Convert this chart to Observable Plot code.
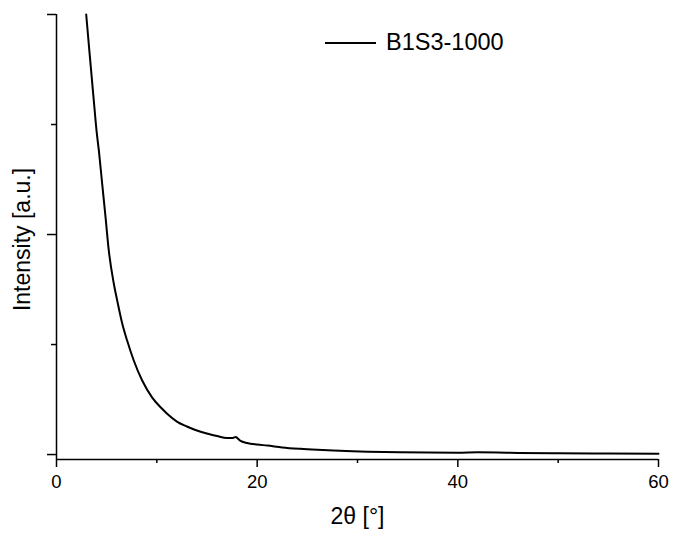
<!DOCTYPE html>
<html>
<head>
<meta charset="utf-8">
<script src="https://cdn.jsdelivr.net/npm/d3@7"></script>
<script src="https://cdn.jsdelivr.net/npm/@observablehq/plot@0.6"></script>
<style>
  html, body { margin: 0; padding: 0; background: #fff; }
  #wrap { position: relative; width: 673px; height: 535px; font-family: "Liberation Sans", Arial, sans-serif; }
  #legend { position: absolute; left: 325px; top: 29px; display: flex; align-items: center; font-size: 23.5px; color: #000; }
  #legend svg { margin-right: 10px; }
</style>
</head>
<body>
<div id="wrap"><div id="legend"></div></div>
<script>
// Data
const seriesName = "B1S3-1000";
const twoTheta = [2.96, 3.3, 3.7, 4.0, 4.22, 4.55, 4.89, 5.21, 5.71, 6.05, 6.55, 7.04, 7.7, 8.54, 9.54, 10.5, 11.0, 12.0, 13.0, 14.0, 15.0, 16.0, 17.0, 17.5, 17.85, 18.3, 19.0, 20.0, 21.0, 22.5, 24.3, 26.0, 27.6, 29.5, 31.0, 34.3, 37.0, 40.0, 42.0, 44.0, 46.0, 50.0, 55.0, 60.0];
const intensity = [4000, 3645, 3236, 2936, 2764, 2464, 2155, 1855, 1555, 1400, 1191, 1036, 855, 673, 518, 418, 373, 300, 255, 218, 191, 168, 150, 150, 159, 127, 105, 91, 82, 65, 52, 43, 36, 30, 26, 21, 18, 16, 20, 19, 15, 11, 9, 7];
const xMajorTicks = [0, 20, 40, 60];
const xMinorTicks = [10, 30, 50];
const yMajorTicks = [0, 2000, 4000];
const yMinorTicks = [1000, 3000];
const xLabel = "2θ [°]";
const yLabel = "Intensity [a.u.]";

const data = twoTheta.map((x, i) => ({x, y: intensity[i]}));
const font = "Liberation Sans, Arial, sans-serif";

const chart = Plot.plot({
  width: 673,
  height: 535,
  marginLeft: 56,
  marginRight: 15,
  marginTop: 14,
  marginBottom: 76,
  style: {fontFamily: font, background: "#fff", color: "#000"},
  x: {domain: [0, 60]},
  y: {domain: [-45, 4000]},
  marks: [
    Plot.axisX({ticks: xMajorTicks, tickSize: 8, tickPadding: 7, fontSize: 18.5, strokeWidth: 1.5, label: null}),
    Plot.axisX({ticks: xMinorTicks, tickSize: 4, tickFormat: () => "", strokeWidth: 1.5, label: null}),
    Plot.axisY({ticks: yMajorTicks, tickSize: 9, tickFormat: () => "", strokeWidth: 1.5, label: null}),
    Plot.axisY({ticks: yMinorTicks, tickSize: 5, tickFormat: () => "", strokeWidth: 1.5, label: null}),
    Plot.ruleX([0], {stroke: "#000", strokeWidth: 1.5}),
    Plot.ruleY([-45], {stroke: "#000", strokeWidth: 1.5}),
    Plot.line(data, {x: "x", y: "y", stroke: "#000", strokeWidth: 2, curve: "monotone-x"}),
    Plot.text([xLabel], {frameAnchor: "bottom", dy: 64, fontSize: 23, fill: "#000"}),
    Plot.text([yLabel], {frameAnchor: "left", textAnchor: "middle", rotate: -90, dx: -34, dy: 2.5, fontSize: 23, fill: "#000"})
  ]
});
document.getElementById("wrap").prepend(chart);

const legend = document.getElementById("legend");
legend.innerHTML = `<svg width="51" height="4"><line x1="0" x2="51" y1="2" y2="2" stroke="#000" stroke-width="2"/></svg><span>${seriesName}</span>`;
</script>
</body>
</html>
